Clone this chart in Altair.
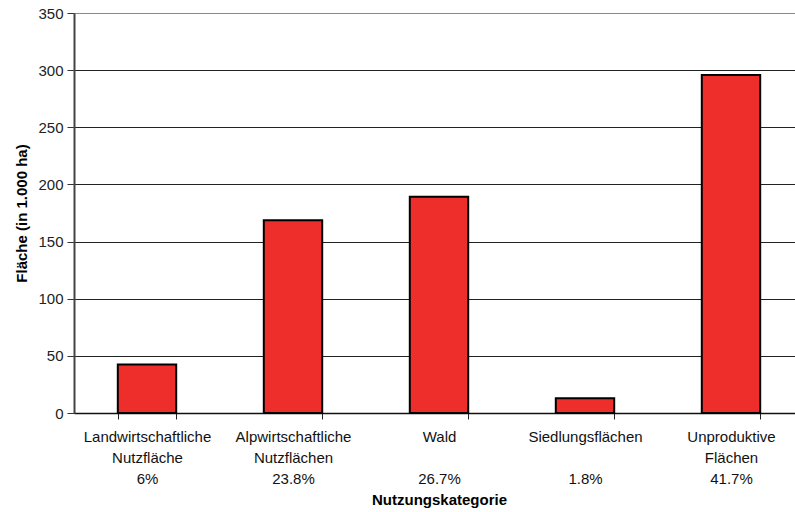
import altair as alt
import pandas as pd

# Land use categories (area in 1,000 ha) and their share of the total
categories = [
    "Landwirtschaftliche Nutzfläche",
    "Alpwirtschaftliche Nutzflächen",
    "Wald",
    "Siedlungsflächen",
    "Unproduktive Flächen",
]
label_line1 = ["Landwirtschaftliche", "Alpwirtschaftliche", "Wald", "Siedlungsflächen", "Unproduktive"]
# a blank (non-trimmed) glyph keeps the empty middle line for one-line names
label_line2 = ["Nutzfläche", "Nutzflächen", "\u2800", "\u2800", "Flächen"]
shares = ["6%", "23.8%", "26.7%", "1.8%", "41.7%"]
area = [42.5, 168.7, 189.3, 12.8, 295.7]
y_ticks = [0, 50, 100, 150, 200, 250, 300, 350]

df = pd.DataFrame({"kategorie": categories, "flaeche": area})

# Multi-line tick labels: name (one or two lines) followed by the share
pairs = []
for c, a, b, s in zip(categories, label_line1, label_line2, shares):
    pairs.append("'%s': ['%s', '%s', '%s']" % (c, a, b, s))
label_expr = "{" + ", ".join(pairs) + "}[datum.value]"

FONT = "Liberation Sans"

chart = (
    alt.Chart(df)
    .mark_bar(color="#EE2E2B", stroke="#000000", strokeWidth=2)
    .encode(
        x=alt.X(
            "kategorie:N",
            sort=categories,
            title="Nutzungskategorie",
            scale=alt.Scale(paddingInner=0.6, paddingOuter=0.3, range=[0, 730]),
            axis=alt.Axis(
                labelAngle=0,
                labelExpr=label_expr,
                labelFont=FONT,
                labelFontSize=15,
                labelLineHeight=21,
                labelColor="#111111",
                labelPadding=10,
                tickBand="extent",
                tickSize=6,
                tickColor="#222222",
                domainColor="#111111",
                domainWidth=1.5,
                grid=False,
                titleFont=FONT,
                titleFontSize=15,
                titleFontWeight="bold",
                titleColor="#000000",
                titlePadding=6,
            ),
        ),
        y=alt.Y(
            "flaeche:Q",
            title="Fläche (in 1.000 ha)",
            scale=alt.Scale(domain=[0, 350], nice=False),
            axis=alt.Axis(
                values=y_ticks,
                labelFont=FONT,
                labelFontSize=15,
                labelColor="#222222",
                labelPadding=4,
                tickSize=7,
                tickColor="#333333",
                domainColor="#444444",
                domainWidth=2,
                gridColor={"condition": {"test": "datum.value == 350", "value": "#888888"}, "value": "#222222"},
                gridWidth=1,
                titleFont=FONT,
                titleFontSize=15,
                titleFontWeight="bold",
                titleColor="#000000",
                titlePadding=8,
            ),
        ),
    )
    .properties(
        width=721,
        height=400,
        padding={"left": 74, "top": 13, "right": 0, "bottom": 99},
        autosize=alt.AutoSizeParams(type="none"),
    )
    .configure_view(stroke=None)
    .configure(background="#ffffff")
)

chart.save("out.html", embed_options={"renderer": "svg", "actions": False})
